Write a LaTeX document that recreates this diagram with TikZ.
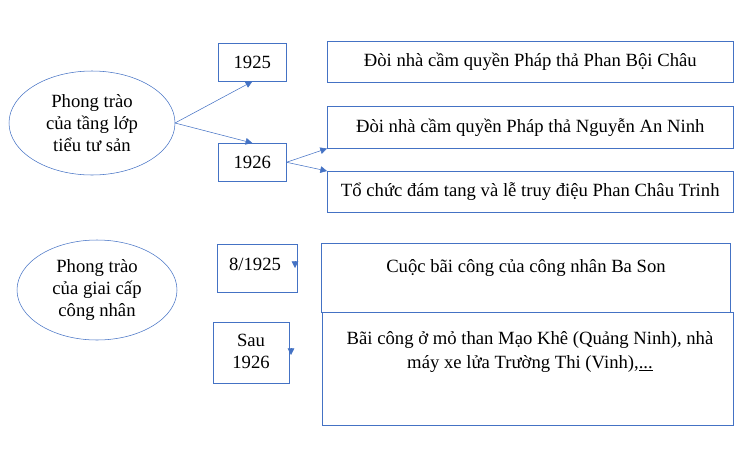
\documentclass[tikz,border=0pt]{standalone}
\usepackage{fontspec}
\setmainfont{Liberation Serif}
\usetikzlibrary{arrows.meta}
\definecolor{lineblue}{RGB}{68,114,196}
\tikzset{
  box/.style={draw=lineblue, thin, anchor=north west, inner sep=0pt},
  oval/.style={draw=lineblue, thin, ellipse, align=center, inner sep=0pt},
  link/.style={draw=lineblue, -{Triangle[length=5pt,width=5pt]}},
}
\begin{document}
\begin{tikzpicture}[x=0.75pt, y=-0.75pt, font=\fontsize{14}{16.5}\selectfont]
    \useasboundingbox (0,0) rectangle (749,450);

    % Left ovals
    \draw[lineblue] (92,123) ellipse (83 and 52);
    \node[align=center] (petty) at (92,123) {Phong trào\\của tầng lớp\\tiểu tư sản};
    \draw[lineblue] (97,290) ellipse (80 and 50);
    \node[align=center] (workers) at (97,290) {Phong trào\\của giai cấp\\công nhân};
    \coordinate (petty e) at (175,123);

    % Year boxes
    \node[box, minimum width=68*0.75pt, minimum height=38*0.75pt] (y1925) at (218,43) {1925};
    \node[box, minimum width=68*0.75pt, minimum height=38*0.75pt] (y1926) at (218,143) {1926};
    \node[box, minimum width=80*0.75pt, minimum height=48*0.75pt, align=center] (y8) at (217,244) {};
    \node at (255,264) {8/1925};
    \node[box, minimum width=76*0.75pt, minimum height=61*0.75pt, align=center] (ysau) at (213,322) {};
    \node[align=center] at (251,351) {Sau\\1926};

    % Event boxes
    \node[box, minimum width=406*0.75pt, minimum height=41*0.75pt] (evA) at (327,41) {Đòi nhà cầm quyền Pháp thả Phan Bội Châu};
    \node[box, minimum width=406*0.75pt, minimum height=42*0.75pt] (evB) at (327,106) {Đòi nhà cầm quyền Pháp thả Nguyễn An Ninh};
    \node[box, minimum width=406*0.75pt, minimum height=41*0.75pt] (evC) at (327,171) {Tổ chức đám tang và lễ truy điệu Phan Châu Trinh};
    \node[box, minimum width=409*0.75pt, minimum height=69*0.75pt] (evD) at (321,243) {};
    \node at (526,268) {Cuộc bãi công của công nhân Ba Son};
    \node[box, minimum width=411*0.75pt, minimum height=113*0.75pt] (evE) at (322,312) {};
    \node[align=center] at (530,352) {Bãi công ở mỏ than Mạo Khê (Quảng Ninh), nhà\\[1.5pt]máy xe lửa Trường Thi (Vinh),\underline{...}};

    % Connectors
    \draw[link] (petty e) -- (y1925.south);
    \draw[link] (petty e) -- (y1926.north);
    \draw[link] (y1926.east) -- (evB.south west);
    \draw[link] (y1926.east) -- (evC.north west);
    \coordinate (t8) at (295,262);
    \coordinate (tsau) at (291,349);
    \draw[link] (t8) -- ++(0,6);
    \draw[link] (tsau) -- ++(0,6);
\end{tikzpicture}
\end{document}
